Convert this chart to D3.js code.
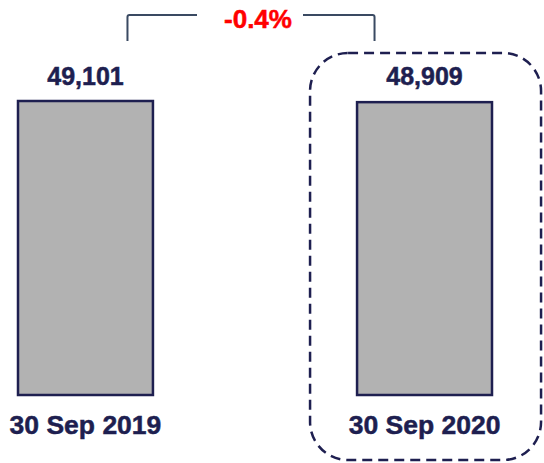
<!DOCTYPE html>
<html>
<head>
<meta charset="utf-8">
<script src="https://cdn.jsdelivr.net/npm/d3@7"></script>
<style>
  html, body { margin: 0; padding: 0; background: #fff; }
  svg { display: block; font-family: "Liberation Sans", Arial, sans-serif; }
</style>
</head>
<body>
<div id="chart"></div>
<script>
// data
var categories = ['30 Sep 2019', '30 Sep 2020'];
var values = [49101, 48909];
var changeLabel = '-0.4%';

var width = 544;
var height = 463;
var navy = '#1e1f50';

var svg = d3.select('#chart')
  .append('svg')
  .attr('width', width)
  .attr('height', height);

var x = d3.scaleBand()
  .domain(categories)
  .range([18, 492])
  .paddingInner(0.602)
  .paddingOuter(0);

var y = d3.scaleLinear()
  .domain([0, d3.max(values)])
  .range([395, 101]);

var rows = categories.map(function(c, i) { return {cat: c, val: values[i]}; });

// highlight box round the latest bar
var bx = x(categories[1]) - 47;
svg.append('rect')
  .attr('x', bx)
  .attr('y', 53)
  .attr('width', 231)
  .attr('height', 407)
  .attr('rx', 38)
  .attr('fill', 'none')
  .attr('stroke', navy)
  .attr('stroke-width', 2.5)
  .attr('stroke-dasharray', '10,6');

// bars
svg.selectAll('rect.bar')
  .data(rows)
  .enter().append('rect')
    .attr('class', 'bar')
    .attr('x', d => x(d.cat))
    .attr('y', d => y(d.val))
    .attr('width', x.bandwidth())
    .attr('height', d => y(0) - y(d.val))
    .attr('fill', '#b2b2b2')
    .attr('stroke', navy)
    .attr('stroke-width', 2.5);

// value labels
svg.selectAll('text.val')
  .data(rows)
  .enter().append('text')
    .attr('class', 'val')
    .attr('x', d => x(d.cat) + x.bandwidth() / 2)
    .attr('y', 85)
    .attr('text-anchor', 'middle')
    .attr('font-size', 25)
    .attr('font-weight', 'bold')
    .attr('fill', navy)
    .attr('stroke', navy)
    .attr('stroke-width', 0.5)
    .text(d => d3.format(',')(d.val));

// category labels
svg.selectAll('text.cat')
  .data(rows)
  .enter().append('text')
    .attr('class', 'cat')
    .attr('x', d => x(d.cat) + x.bandwidth() / 2)
    .attr('y', 434)
    .attr('text-anchor', 'middle')
    .attr('font-size', 26.5)
    .attr('font-weight', 'bold')
    .attr('fill', navy)
    .attr('stroke', navy)
    .attr('stroke-width', 0.5)
    .text(d => d.cat);

// change bracket
var lx = x(categories[0]) + x.bandwidth() / 2 + 42;
var rx = x(categories[1]) + x.bandwidth() / 2 - 50;
var ty = 15, by = 41, r = 2;
var mid = (lx + rx) / 2;
var bracket = svg.append('g')
  .attr('fill', 'none')
  .attr('stroke', '#3a4a62')
  .attr('stroke-width', 2);
bracket.append('path')
  .attr('d', 'M' + lx + ',' + by + 'V' + (ty + r) + 'Q' + lx + ',' + ty + ' ' + (lx + r) + ',' + ty + 'H' + (mid - 54));
bracket.append('path')
  .attr('d', 'M' + (mid + 52) + ',' + ty + 'H' + (rx - r) + 'Q' + rx + ',' + ty + ' ' + rx + ',' + (ty + r) + 'V' + by);

svg.append('text')
  .attr('x', mid + 7)
  .attr('y', 27.5)
  .attr('text-anchor', 'middle')
  .attr('font-size', 26)
  .attr('font-weight', 'bold')
  .attr('fill', '#ff0000')
  .attr('stroke', '#ff0000')
  .attr('stroke-width', 0.5)
  .text(changeLabel);
</script>
</body>
</html>
